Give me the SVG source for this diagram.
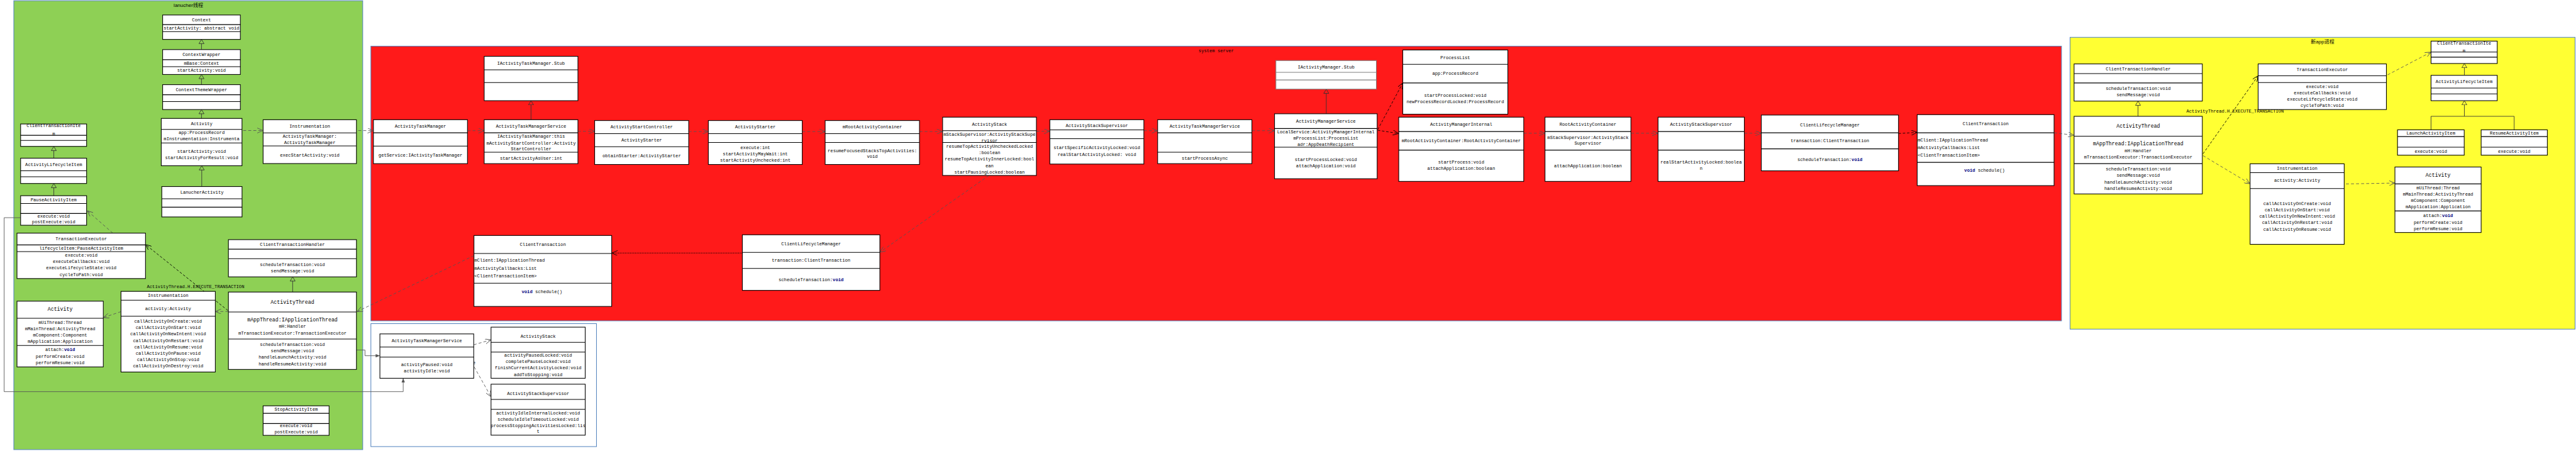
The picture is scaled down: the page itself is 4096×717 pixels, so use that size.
<svg xmlns="http://www.w3.org/2000/svg" width="4096" height="717" viewBox="0 0 4096 717">
<style>
.b{fill:#fff;stroke:#000;stroke-width:1.6}
.bg{fill:#fff;stroke:#7f7f7f;stroke-width:1.6}
.d{stroke:#000;stroke-width:1.6;fill:none}
.dg{stroke:#7f7f7f;stroke-width:1.6;fill:none}
text{font-family:"Liberation Mono","DejaVu Sans Mono",monospace;font-size:10.7px;text-anchor:middle;dominant-baseline:central;fill:#000}
.L{font-size:12.3px}
.s{text-anchor:start}
.v{font-weight:bold;fill:#000080}
.cj{font-family:"Liberation Sans","Noto Sans CJK SC",sans-serif;font-size:12px}
.c{stroke:#555;stroke-width:1.3;fill:none;stroke-dasharray:7 5}
.ck{stroke:#000;stroke-width:1.3;fill:none;stroke-dasharray:6 4}
.cd{stroke:#000;stroke-width:1.5;fill:none;stroke-dasharray:2 2}
.ci{stroke:#333;stroke-width:1.3;fill:none}
.cs{stroke:#555;stroke-width:1.3;fill:none}
.reg{stroke:#4f81bd;stroke-width:1.5}
</style>
<defs>
<marker id="open" viewBox="0 0 14 12" refX="14" refY="6" markerWidth="14" markerHeight="12" markerUnits="userSpaceOnUse" orient="auto"><path d="M0,0 L14,6 L0,12" fill="none" stroke="#555" stroke-width="1.3"/></marker>
<marker id="openk" viewBox="0 0 14 12" refX="14" refY="6" markerWidth="14" markerHeight="12" markerUnits="userSpaceOnUse" orient="auto"><path d="M0,0 L14,6 L0,12" fill="none" stroke="#000" stroke-width="1.3"/></marker>
<marker id="tri" viewBox="-1 -1 12 14" refX="0" refY="6" markerWidth="12" markerHeight="14" markerUnits="userSpaceOnUse" orient="auto"><path d="M0,0 L10,6 L0,12 z" fill="none" stroke="#333" stroke-width="1.3"/></marker>
<marker id="fill" viewBox="0 0 10 8" refX="10" refY="4" markerWidth="10" markerHeight="8" markerUnits="userSpaceOnUse" orient="auto"><path d="M0,0 L10,4 L0,8 z" fill="#555"/></marker>
</defs>
<rect width="4096" height="717" fill="#fff"/>
<g transform="scale(0.6717)">
<!-- regions -->
<g id="region-launcher">
<rect class="reg" x="32.7" y="1.7" width="826" height="1062.5" fill="#8ed055"/>
<text class="cj" x="446" y="12">lanucher线程</text>
</g>
<g id="region-bottom">
<rect class="reg" x="878" y="766" width="534" height="291" fill="#fff"/>
</g>
<g id="region-system">
<rect class="reg" x="878" y="109.3" width="4002" height="650" fill="#ff1a1a"/>
<text x="2879" y="121">system server</text>
</g>
<g id="region-newapp">
<rect class="reg" x="4900.3" y="88.3" width="1195.4" height="690.7" fill="#ffff33"/>
<text class="cj" x="5498" y="98.3">新app进程</text>
</g>

<!-- connectors -->
<g id="connectors">
<!-- inheritance -->
<path class="ci" marker-end="url(#tri)" d="M477,117.4 V103.3"/>
<path class="ci" marker-end="url(#tri)" d="M477,200.4 V186.3"/>
<path class="ci" marker-end="url(#tri)" d="M477,280.3 V269.3"/>
<path class="ci" marker-end="url(#tri)" d="M477.6,441.5 V402.3"/>
<path class="ci" marker-end="url(#tri)" d="M127.4,374.4 V356.5"/>
<path class="ci" marker-end="url(#tri)" d="M127.4,463.2 V444.3"/>
<path class="ci" marker-end="url(#tri)" d="M692.8,691.2 V665.3"/>
<path class="ci" marker-end="url(#tri)" d="M1257,283.3 V248.3"/>
<path class="ci" marker-end="url(#tri)" d="M3139.6,269.3 V221"/>
<path class="ci" marker-end="url(#tri)" d="M5061.2,275.3 V249.3"/>
<path class="ci" marker-end="url(#tri)" d="M5833.7,178.3 V160.3"/>
<path class="ci" d="M5754.8,307.3 V275.3 H5951.6 V307.3"/>
<path class="ci" marker-end="url(#tri)" d="M5833.7,275.3 V248.3"/>
<!-- dependencies -->
<path class="c" marker-end="url(#open)" d="M575.7,308.9 H622.8"/>
<path class="c" marker-end="url(#open)" d="M848,308.9 L884,309.3"/>
<path class="c" marker-end="url(#open)" d="M1106.6,309.3 H1146.2"/>
<path class="c" marker-end="url(#open)" d="M1368,310.7 H1407.7"/>
<path class="c" marker-end="url(#open)" d="M1630,311.3 H1676.8"/>
<path class="c" marker-end="url(#open)" d="M1899,311.3 H1953.3"/>
<path class="c" marker-end="url(#open)" d="M2176.6,311.3 H2231.4"/>
<path class="c" marker-end="url(#open)" d="M2453.4,310.7 H2485.2"/>
<path class="c" marker-end="url(#open)" d="M2707.8,309.3 H2740.4"/>
<path class="c" marker-end="url(#open)" d="M2963.5,309.3 H3017.1"/>
<path class="ck" marker-end="url(#openk)" d="M3261.4,306.7 L3320.7,196.3"/>
<path class="ck" marker-end="url(#openk)" d="M3261.4,308.3 L3311.1,316"/>
<path class="c" marker-end="url(#open)" d="M3607,315.3 H3657.4"/>
<path class="c" marker-end="url(#open)" d="M3860.7,315.3 H3925"/>
<path class="c" marker-end="url(#open)" d="M4129.2,315.3 H4169.4"/>
<path class="ck" marker-end="url(#openk)" d="M4494.2,316 L4538.4,313.3"/>
<path class="c" marker-end="url(#open)" d="M4862.4,314.3 L4909.8,320"/>
<path class="ck" marker-end="url(#openk)" d="M5215,364 L5345.5,179.3"/>
<text x="5291" y="264">ActivityThread.H.EXECUTE_TRANSACTION</text>
<path class="c" marker-end="url(#open)" d="M5215,368.3 L5326.5,435"/>
<path class="c" marker-end="url(#open)" d="M5651.8,177.3 L5754.8,123.3"/>
<path class="c" marker-end="url(#open)" d="M5553.4,435.3 L5669.3,433.3"/>
<path class="c" marker-end="url(#open)" d="M2341,415.3 L2082.8,597"/>
<path class="cd" marker-end="url(#openk)" d="M1757.3,599 H1448"/>
<path class="c" marker-end="url(#open)" d="M1122,605 L845,737.6"/>
<path class="ck" marker-end="url(#openk)" d="M539.6,735 L344.4,578.7"/>
<text x="463" y="678.8">ActivityThread.H.EXECUTE_TRANSACTION</text>
<path class="c" marker-end="url(#open)" d="M540.7,737.3 H509.7"/>
<path class="c" marker-end="url(#open)" d="M286.4,737.6 L244.5,751.7"/>
<path class="c" marker-end="url(#open)" d="M267,551.8 L206.6,498.7"/>
<path class="cs" marker-end="url(#fill)" d="M843.8,828.4 H864 V842 H899.3"/>
<path class="cs" marker-end="url(#fill)" d="M48.8,515.2 H9.8 V927 H954.5 V895.3"/>
<path class="c" marker-end="url(#open)" d="M1121.4,816 L1162.4,804.3"/>
<path class="c" marker-end="url(#open)" d="M1122.4,868.3 L1162.4,939.3"/>
<text x="1112.6" y="859.3">Name</text>
</g>

<!-- launcher nodes -->
<g id="n-context"><rect class="b" x="385" y="35.5" width="184" height="57.8"/><path class="d" d="M385,58.2H569M385,74.7H569"/><text x="477" y="47.5">Context</text><text x="477" y="67">startActivity: abstract void</text></g>
<g id="n-contextwrapper"><rect class="b" x="385" y="117.4" width="184" height="58.9"/><path class="d" d="M385,141.2H569M385,157.7H569"/><text x="477" y="130">ContextWrapper</text><text x="477" y="150">mBase:Context</text><text x="477" y="167.3">startActivity:void</text></g>
<g id="n-contextthemewrapper"><rect class="b" x="385" y="200.4" width="184" height="58.9"/><path class="d" d="M385,224.2H569M385,240.4H569"/><text x="477" y="213">ContextThemeWrapper</text></g>
<g id="n-activity-launcher"><rect class="b" x="381.7" y="280.3" width="191.2" height="112"/><path class="d" d="M381.7,306.2H572.9M381.7,338.2H572.9"/><text x="477.3" y="294">Activity</text><text x="477.3" y="313.4">app:ProcessRecord</text><text x="477.3" y="328.6">mInstrumentation:Instrumenta</text><text x="477.3" y="358.5">startActivity:void</text><text x="477.3" y="373.3">startActivityForResult:void</text></g>
<g id="n-lanucheractivity"><rect class="b" x="383" y="441.5" width="190" height="72"/><path class="d" d="M383,470.4H573M383,490.4H573"/><text x="478" y="456">LanucherActivity</text></g>
<g id="n-instrumentation-launcher"><rect class="b" x="622.8" y="283.4" width="221" height="103.7"/><path class="d" d="M622.8,314.4H843.8M622.8,345.4H843.8"/><text x="733.3" y="299">Instrumentation</text><text x="733.3" y="323.4">ActivityTaskManager:</text><text x="733.3" y="338.5">ActivityTaskManager</text><text x="733.3" y="367">execStartActivity:void</text></g>
<g id="n-cti-launcher"><rect class="b" x="48.8" y="293.4" width="156.2" height="53.1"/><path class="d" d="M48.8,320.3H205M48.8,332.3H205"/><text x="127" y="297.9">ClientTransactionIte</text><text x="127" y="316.5">m</text></g>
<g id="n-ali-launcher"><rect class="b" x="48.8" y="374.4" width="156.2" height="59.9"/><path class="d" d="M48.8,404.3H205M48.8,418.4H205"/><text x="127" y="390">ActivityLifecycleItem</text></g>
<g id="n-pauseactivityitem"><rect class="b" x="48.8" y="463.2" width="156.2" height="69.9"/><path class="d" d="M48.8,481.5H205M48.8,505.2H205"/><text x="127" y="473.3">PauseActivityItem</text><text x="127" y="511.4">execute:void</text><text x="127" y="525.9">postExecute:void</text></g>
<g id="n-te-launcher"><rect class="b" x="40.2" y="551.8" width="304.2" height="107.5"/><path class="d" d="M40.2,579.7H344.4M40.2,595.5H344.4"/><text x="192.3" y="566">TransactionExecutor</text><text x="192.3" y="587.7">lifecycleItem:PauseActivityItem</text><text x="192.3" y="604.2">execute:void</text><text x="192.3" y="619.3">executeCallbacks:void</text><text x="192.3" y="634.4">executeLifecycleState:void</text><text x="192.3" y="649.9">cycleToPath:void</text></g>
<g id="n-cth-launcher"><rect class="b" x="540.7" y="567.2" width="303.1" height="88.1"/><path class="d" d="M540.7,589.7H843.8M540.7,612.3H843.8"/><text x="692.3" y="579.3">ClientTransactionHandler</text><text x="692.3" y="626.4">scheduleTransaction:void</text><text x="692.3" y="641.2">sendMessage:void</text></g>
<g id="n-at-launcher"><rect class="b" x="540.7" y="691.2" width="303.1" height="183.2"/><path class="d" d="M540.7,738.3H843.8M540.7,802.5H843.8"/><text class="L" x="692.3" y="715.8">ActivityThread</text><text class="L" x="692.3" y="756.8">mAppThread:IApplicationThread</text><text x="692.3" y="772.9">mH:Handler</text><text x="692.3" y="788.7">mTransactionExecutor:TransactionExecutor</text><text x="692.3" y="816.3">scheduleTransaction:void</text><text x="692.3" y="831">sendMessage:void</text><text x="692.3" y="846.2">handleLaunchActivity:void</text><text x="692.3" y="862">handleResumeActivity:void</text></g>
<g id="n-instr-launcher2"><rect class="b" x="286.4" y="689.6" width="223.3" height="190.9"/><path class="d" d="M286.4,710.4H509.7M286.4,748.4H509.7"/><text x="398" y="700.3">Instrumentation</text><text x="398" y="730.6">activity:Activity</text><text x="398" y="761.2">callActivityOnCreate:void</text><text x="398" y="776">callActivityOnStart:void</text><text x="398" y="791.1">callActivityOnNewIntent:void</text><text x="398" y="806.2">callActivityOnRestart:void</text><text x="398" y="821.3">callActivityOnResume:void</text><text x="398" y="837.1">callActivityOnPause:void</text><text x="398" y="852.2">callActivityOnStop:void</text><text x="398" y="867">callActivityOnDestroy:void</text></g>
<g id="n-activity-launcher2"><rect class="b" x="40.2" y="712.8" width="204.3" height="155.6"/><path class="d" d="M40.2,753.4H244.5M40.2,817.6H244.5"/><text class="L" x="142.3" y="731.9">Activity</text><text x="142.3" y="763.2">mUiThread:Thread</text><text x="142.3" y="778.3">mMainThread:ActivityThread</text><text x="142.3" y="793.8">mComponent:Component</text><text x="142.3" y="808.2">mApplication:Application</text><text x="142.3" y="828.4">attach:<tspan class="v">void</tspan></text><text x="142.3" y="843.5">performCreate:void</text><text x="142.3" y="858.3">performResume:void</text></g>
<g id="n-stopactivityitem"><rect class="b" x="622.8" y="960.5" width="156.2" height="69.9"/><path class="d" d="M622.8,978.3H779M622.8,1002.5H779"/><text x="701" y="969.9">StopActivityItem</text><text x="701" y="1007.9">execute:void</text><text x="701" y="1023">postExecute:void</text></g>

<!-- bottom container nodes -->
<g id="n-atms-bottom"><rect class="b" x="899.3" y="790.3" width="222.1" height="105"/><path class="d" d="M899.3,821.3H1121.4M899.3,845.3H1121.4"/><text x="1010.4" y="807.3">ActivityTaskManagerService</text><text x="1010.4" y="863">activityPaused:void</text><text x="1010.4" y="878">activityIdle:void</text></g>
<g id="n-astack-bottom"><rect class="b" x="1162.4" y="774.3" width="222.9" height="121"/><path class="d" d="M1162.4,810.3H1385.3M1162.4,833.3H1385.3"/><text x="1273.9" y="796.3">ActivityStack</text><text x="1273.9" y="841">activityPausedLocked:void</text><text x="1273.9" y="856">completePauseLocked:void</text><text x="1273.9" y="870.7">finishCurrentActivityLocked:void</text><text x="1273.9" y="886.7">addToStopping:void</text></g>
<g id="n-ass-bottom"><rect class="b" x="1162.4" y="909.3" width="222.9" height="120.7"/><path class="d" d="M1162.4,945.3H1385.3M1162.4,968.7H1385.3"/><text x="1273.9" y="932.3">ActivityStackSupervisor</text><text x="1273.9" y="978.3">activityIdleInternalLocked:void</text><text x="1273.9" y="993">scheduleIdleTimeoutLocked:void</text><text x="1273.9" y="1008">processStoppingActivitiesLocked:lis</text><text x="1273.9" y="1021.7">t</text></g>

<!-- system server nodes -->
<g id="n-iatm-stub"><rect class="b" x="1146.2" y="133.3" width="221.9" height="105"/><path class="d" d="M1146.2,165.3H1368.1M1146.2,195.3H1368.1"/><text x="1257" y="150.3">IActivityTaskManager.Stub</text></g>
<g id="n-atm"><rect class="b" x="884" y="283.3" width="222.6" height="104"/><path class="d" d="M884,314.3H1106.6M884,345.7H1106.6"/><text x="995.3" y="299.3">ActivityTaskManager</text><text x="995.3" y="367.3">getService:IActivityTaskManager</text></g>
<g id="n-atms"><rect class="b" x="1146.2" y="283.3" width="221.9" height="104"/><path class="d" d="M1146.2,314.3H1368.1M1146.2,360.3H1368.1"/><text x="1257.2" y="299.3">ActivityTaskManagerService</text><text x="1257.2" y="323">IActivityTaskManager:this</text><text x="1257.2" y="338.7">mActivityStartController:Activity</text><text x="1257.2" y="353.3">StartController</text><text x="1257.2" y="375.3">startActivityAsUser:int</text></g>
<g id="n-asc"><rect class="b" x="1407.7" y="285.3" width="222.6" height="104"/><path class="d" d="M1407.7,316.3H1630.3M1407.7,347.3H1630.3"/><text x="1519" y="301.3">ActivityStartController</text><text x="1519" y="332.3">ActivityStarter</text><text x="1519" y="369.3">obtainStarter:ActivityStarter</text></g>
<g id="n-activitystarter"><rect class="b" x="1676.8" y="285.3" width="222.3" height="104"/><path class="d" d="M1676.8,316.3H1899.1M1676.8,337.3H1899.1"/><text x="1788" y="301.3">ActivityStarter</text><text x="1788" y="349.3">execute:int</text><text x="1788" y="364.3">startActivityMayWait:int</text><text x="1788" y="379.3">startActivityUnchecked:int</text></g>
<g id="n-mrac"><rect class="b" x="1953.3" y="285.3" width="223.3" height="104"/><path class="d" d="M1953.3,316.3H2176.6M1953.3,337.3H2176.6"/><text x="2065" y="301.3">mRootActivityContainer</text><text x="2065" y="356.7">resumeFocusedStacksTopActivities:</text><text x="2065" y="371">void</text></g>
<g id="n-astack"><rect class="b" x="2231.4" y="277.3" width="222" height="138"/><path class="d" d="M2231.4,309.3H2453.4M2231.4,337.3H2453.4"/><text x="2342.4" y="295.3">ActivityStack</text><text x="2342.4" y="319">mStackSupervisor:ActivityStackSupe</text><text x="2342.4" y="333.3">rvisor</text><text x="2342.4" y="347.3">resumeTopActivityUncheckedLocked</text><text x="2342.4" y="362.3">:boolean</text><text x="2342.4" y="377.3">resumeTopActivityInnerLocked:bool</text><text x="2342.4" y="392.7">ean</text><text x="2342.4" y="408.3">startPausingLocked:boolean</text></g>
<g id="n-astacksup"><rect class="b" x="2485.2" y="283.3" width="222.6" height="105"/><path class="d" d="M2485.2,307.3H2707.8M2485.2,328.3H2707.8"/><text x="2596.5" y="297.3">ActivityStackSupervisor</text><text x="2596.5" y="350">startSpecificActivityLocked:void</text><text x="2596.5" y="366">realStartActivityLocked: void</text></g>
<g id="n-atms2"><rect class="b" x="2740.4" y="283.3" width="223.1" height="104"/><path class="d" d="M2740.4,314.3H2963.5M2740.4,360.3H2963.5"/><text x="2852" y="299.3">ActivityTaskManagerService</text><text x="2852" y="375.3">startProcessAsync</text></g>
<g id="n-iam-stub"><rect class="bg" x="3020.3" y="143.3" width="237.9" height="67.7"/><path class="dg" d="M3020.3,171.3H3258.2M3020.3,189.3H3258.2"/><text x="3139.3" y="158.7">IActivityManager.Stub</text></g>
<g id="n-ams"><rect class="b" x="3017.1" y="269.3" width="243" height="153.7"/><path class="d" d="M3017.1,304.3H3260.1M3017.1,348.3H3260.1"/><text x="3138.6" y="287.7">ActivityManagerService</text><text x="3138.6" y="312.3">LocalService:ActivityManagerInternal</text><text x="3138.6" y="327.7">mProcessList:ProcessList</text><text x="3138.6" y="342.3">adr:AppDeathRecipient</text><text x="3138.6" y="378.3">startProcessLocked:void</text><text x="3138.6" y="393.3">attachApplication:void</text></g>
<g id="n-processlist"><rect class="b" x="3320.7" y="118.3" width="248.7" height="152"/><path class="d" d="M3320.7,152.3H3569.4M3320.7,196.3H3569.4"/><text x="3445" y="136.3">ProcessList</text><text x="3445" y="174.3">app:ProcessRecord</text><text x="3445" y="226.3">startProcessLocked:void</text><text x="3445" y="241.3">newProcessRecordLocked:ProcessRecord</text></g>
<g id="n-ami"><rect class="b" x="3311.1" y="277.3" width="295.9" height="152"/><path class="d" d="M3311.1,311.3H3607M3311.1,355.3H3607"/><text x="3459" y="294.3">ActivityManagerInternal</text><text x="3459" y="333.7">mRootActivityContainer:RootActivityContainer</text><text x="3459" y="384.3">startProcess:void</text><text x="3459" y="399.3">attachApplication:boolean</text></g>
<g id="n-rac"><rect class="b" x="3657.4" y="277.3" width="203.3" height="152"/><path class="d" d="M3657.4,311.3H3860.7M3657.4,355.3H3860.7"/><text x="3759" y="294.3">RootActivityContainer</text><text x="3759" y="325.7">mStackSupervisor:ActivityStack</text><text x="3759" y="340">Supervisor</text><text x="3759" y="392.3">attachApplication:boolean</text></g>
<g id="n-ass3"><rect class="b" x="3925" y="277.3" width="204.2" height="152"/><path class="d" d="M3925,311.3H4129.2M3925,355.3H4129.2"/><text x="4027" y="294.3">ActivityStackSupervisor</text><text x="4027" y="384.3">realStartActivityLocked:boolea</text><text x="4027" y="399.7">n</text></g>
<g id="n-clm"><rect class="b" x="4169.4" y="272.3" width="324.8" height="132"/><path class="d" d="M4169.4,314.3H4494.2M4169.4,352.3H4494.2"/><text x="4331.8" y="296.3">ClientLifecycleManager</text><text x="4331.8" y="334">transaction:ClientTransaction</text><text x="4331.8" y="378">scheduleTransaction:<tspan class="v">void</tspan></text></g>
<g id="n-ct"><rect class="b" x="4538.4" y="271.3" width="324" height="168"/><path class="d" d="M4538.4,314.3H4862.4M4538.4,384.3H4862.4"/><text x="4700.4" y="292.7">ClientTransaction</text><text class="s" x="4539.5" y="331.3">mClient:IApplicationThread</text><text class="s" x="4539.5" y="349.3">mActivityCallbacks:List</text><text class="s" x="4539.5" y="367.3">&lt;ClientTransactionItem&gt;</text><text x="4698" y="404"><tspan class="v">void</tspan> schedule()</text></g>
<g id="n-ct-lower"><rect class="b" x="1122" y="557.3" width="326" height="168"/><path class="d" d="M1122,600H1448M1122,670.3H1448"/><text x="1285" y="579.3">ClientTransaction</text><text class="s" x="1123" y="617">mClient:IApplicationThread</text><text class="s" x="1123" y="635.7">mActivityCallbacks:List</text><text class="s" x="1123" y="654.3">&lt;ClientTransactionItem&gt;</text><text x="1283" y="691.5"><tspan class="v">void</tspan> schedule()</text></g>
<g id="n-clm-lower"><rect class="b" x="1757.3" y="555.7" width="325.5" height="131.6"/><path class="d" d="M1757.3,597.3H2082.8M1757.3,635.3H2082.8"/><text x="1920" y="577">ClientLifecycleManager</text><text x="1920" y="616">transaction:ClientTransaction</text><text x="1920" y="662.7">scheduleTransaction:<tspan class="v">void</tspan></text></g>

<!-- new app nodes -->
<g id="n-cth-app"><rect class="b" x="4909.8" y="151.3" width="303.6" height="88"/><path class="d" d="M4909.8,174.3H5213.4M4909.8,196.3H5213.4"/><text x="5061.6" y="163.3">ClientTransactionHandler</text><text x="5061.6" y="210.3">scheduleTransaction:void</text><text x="5061.6" y="225.3">sendMessage:void</text></g>
<g id="n-at-app"><rect class="b" x="4909.8" y="275.3" width="303.6" height="183.7"/><path class="d" d="M4909.8,322.3H5213.4M4909.8,387.3H5213.4"/><text class="L" x="5061.6" y="298.7">ActivityThread</text><text class="L" x="5061.6" y="340.7">mAppThread:IApplicationThread</text><text x="5061.6" y="357">mH:Handler</text><text x="5061.6" y="372.3">mTransactionExecutor:TransactionExecutor</text><text x="5061.6" y="401">scheduleTransaction:void</text><text x="5061.6" y="416">sendMessage:void</text><text x="5061.6" y="431">handleLaunchActivity:void</text><text x="5061.6" y="446">handleResumeActivity:void</text></g>
<g id="n-te-app"><rect class="b" x="5345.5" y="151.3" width="303.6" height="108"/><path class="d" d="M5345.5,179.3H5649.1M5345.5,195.3H5649.1"/><text x="5497.3" y="165.3">TransactionExecutor</text><text x="5497.3" y="205.7">execute:void</text><text x="5497.3" y="220.3">executeCallbacks:void</text><text x="5497.3" y="235">executeLifecycleState:void</text><text x="5497.3" y="250.3">cycleToPath:void</text></g>
<g id="n-instr-app"><rect class="b" x="5326.5" y="387.7" width="222.7" height="190.6"/><path class="d" d="M5326.5,408.7H5549.2M5326.5,446.3H5549.2"/><text x="5437.9" y="398.3">Instrumentation</text><text x="5437.9" y="427.3">activity:Activity</text><text x="5437.9" y="482.3">callActivityOnCreate:void</text><text x="5437.9" y="497">callActivityOnStart:void</text><text x="5437.9" y="512.3">callActivityOnNewIntent:void</text><text x="5437.9" y="527.3">callActivityOnRestart:void</text><text x="5437.9" y="543">callActivityOnResume:void</text></g>
<g id="n-cti-app"><rect class="b" x="5754.8" y="97.3" width="156.7" height="53"/><path class="d" d="M5754.8,123.3H5911.5M5754.8,135.3H5911.5"/><text x="5833" y="102">ClientTransactionIte</text><text x="5833" y="120">m</text></g>
<g id="n-ali-app"><rect class="b" x="5754.8" y="178.3" width="156.7" height="60"/><path class="d" d="M5754.8,208.3H5911.5M5754.8,222.3H5911.5"/><text x="5833" y="193.7">ActivityLifecycleItem</text></g>
<g id="n-launchactivityitem"><rect class="b" x="5675.4" y="307.3" width="157.9" height="60"/><path class="d" d="M5675.4,323.3H5833.3M5675.4,348.3H5833.3"/><text x="5754.4" y="316.3">LaunchActivityItem</text><text x="5754.4" y="358.3">execute:void</text></g>
<g id="n-resumeactivityitem"><rect class="b" x="5873.4" y="307.3" width="156.7" height="60"/><path class="d" d="M5873.4,323.3H6030.1M5873.4,348.3H6030.1"/><text x="5951.8" y="316.3">ResumeActivityItem</text><text x="5951.8" y="358.3">execute:void</text></g>
<g id="n-activity-app"><rect class="b" x="5669.3" y="395.3" width="204.1" height="155"/><path class="d" d="M5669.3,435.3H5873.4M5669.3,499.3H5873.4"/><text class="L" x="5771.4" y="415">Activity</text><text x="5771.4" y="445">mUiThread:Thread</text><text x="5771.4" y="460">mMainThread:ActivityThread</text><text x="5771.4" y="475.3">mComponent:Component</text><text x="5771.4" y="490.3">mApplication:Application</text><text x="5771.4" y="511.3">attach:<tspan class="v">void</tspan></text><text x="5771.4" y="526.3">performCreate:void</text><text x="5771.4" y="541.3">performResume:void</text></g>
</g>
</svg>
